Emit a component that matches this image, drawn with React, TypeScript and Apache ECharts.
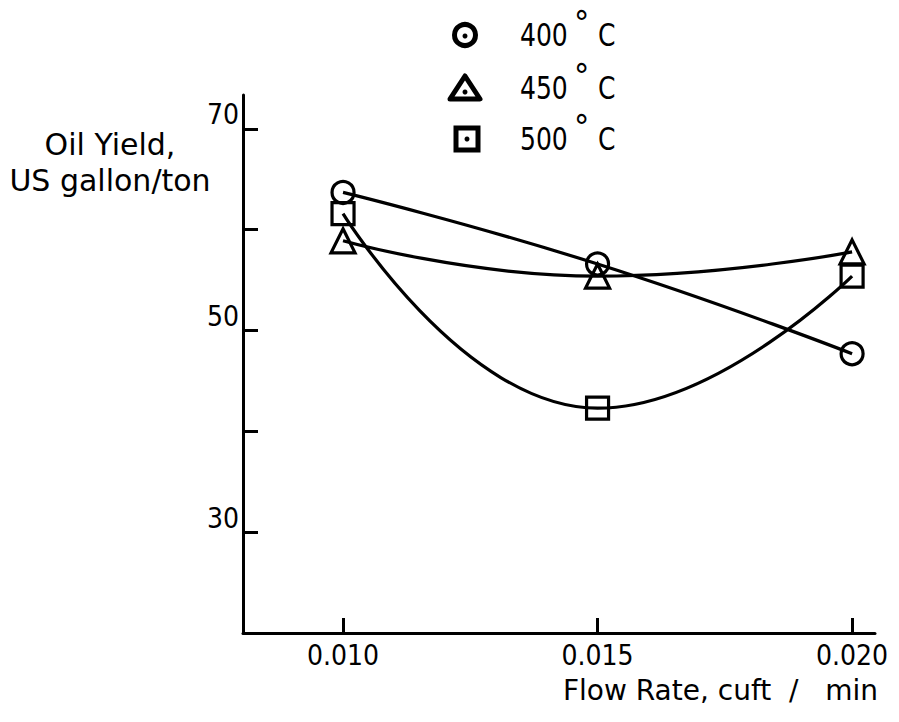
import React, { useEffect, useRef } from "react";
import * as echarts from "echarts";

const flowRates = [0.01, 0.015, 0.02];
const yield400 = [63.7, 56.6, 47.7];
const yield450 = [58.9, 55.4, 57.8];
const yield500 = [61.6, 42.3, 55.4];
const xTickValues = [0.01, 0.015, 0.02];
const yTickValues = [30, 40, 50, 60, 70];
const yLabelValues = [30, 50, 70];
const legendNames = ["400", "450", "500"];

const NARROW = "'DejaVu Sans Condensed', 'Liberation Sans', sans-serif";
const WIDE = "'DejaVu Sans', sans-serif";

export default function App() {
  const ref = useRef<HTMLDivElement>(null);
  useEffect(() => {
    if (!ref.current) return;
    const chart = echarts.init(ref.current, null, { renderer: "svg" });
    const mk = (name: string, data: number[], symbol: string, size: number) => ({
      name,
      type: "line",
      smooth: 0.5,
      data: flowRates.map((x, i) => [x, data[i]]),
      symbol,
      symbolSize: size,
      showSymbol: true,
      lineStyle: { color: "#000", width: 3.2 },
      itemStyle: { color: "rgba(0,0,0,0)", borderColor: "#000", borderWidth: 3.2 },
      z: 3,
    });
    const legendY = [35, 88, 139];
    const graphics: any[] = [];
    graphics.push(
      { type: "text", x: 110, y: 144, style: { text: "Oil Yield,", font: `30px ${WIDE}`, fill: "#000", align: "center", verticalAlign: "middle" } },
      { type: "text", x: 110, y: 180, style: { text: "US gallon/ton", font: `30px ${WIDE}`, fill: "#000", align: "center", verticalAlign: "middle" } },
      { type: "text", x: 878, y: 690, style: { text: "Flow Rate, cuft  /   min", font: `28px ${WIDE}`, fill: "#000", align: "right", verticalAlign: "middle" } },
      { type: "circle", shape: { cx: 465, cy: legendY[0], r: 10.5 }, style: { fill: "none", stroke: "#000", lineWidth: 5 } },
      { type: "circle", shape: { cx: 465, cy: legendY[0] + 1, r: 2.5 }, style: { fill: "#000" } },
      { type: "polygon", shape: { points: [[465, 76], [480, 99], [450, 99]] }, style: { fill: "none", stroke: "#000", lineWidth: 5, lineJoin: "round" } },
      { type: "circle", shape: { cx: 465, cy: 92, r: 2.5 }, style: { fill: "#000" } },
      { type: "rect", shape: { x: 456, y: 128, width: 22, height: 22 }, style: { fill: "none", stroke: "#000", lineWidth: 5 } },
      { type: "circle", shape: { cx: 467, cy: 139, r: 2.5 }, style: { fill: "#000" } }
    );
    legendNames.forEach((n, i) => {
      graphics.push(
        { type: "text", x: 520, y: legendY[i], scaleX: 0.87, style: { text: n, font: `32px ${NARROW}`, fill: "#000", align: "left", verticalAlign: "middle" } },
        { type: "text", x: 574, y: legendY[i] - 12, style: { text: "°", font: `34px ${NARROW}`, fill: "#000", align: "left", verticalAlign: "middle" } },
        { type: "text", x: 598, y: legendY[i], scaleX: 0.87, style: { text: "C", font: `32px ${NARROW}`, fill: "#000", align: "left", verticalAlign: "middle" } }
      );
    });
    chart.setOption({
      animation: false,
      backgroundColor: "#fff",
      grid: { left: 243, right: 24, top: 95, bottom: 89 },
      xAxis: {
        type: "value",
        min: 0.008035,
        max: 0.02045,
        axisLine: { show: true, lineStyle: { color: "#000", width: 3 } },
        axisTick: { show: true, inside: true, length: 15, customValues: xTickValues, lineStyle: { color: "#000", width: 3 } },
        axisLabel: {
          show: true,
          customValues: xTickValues,
          formatter: (v: number) => v.toFixed(3),
          color: "#000",
          fontFamily: NARROW,
          fontSize: 28,
          margin: 8,
        },
        splitLine: { show: false },
      },
      yAxis: {
        type: "value",
        min: 20,
        max: 73.36,
        axisLine: { show: true, lineStyle: { color: "#000", width: 3 } },
        axisTick: { show: true, inside: true, length: 15, customValues: yTickValues, lineStyle: { color: "#000", width: 3 } },
        axisLabel: {
          show: true,
          customValues: yLabelValues,
          color: "#000",
          fontFamily: NARROW,
          fontSize: 28,
          margin: 4,
          verticalAlign: "bottom",
          padding: [0, 0, 0, 0],
        },
        splitLine: { show: false },
      },
      series: [
        mk("400° C", yield400, "circle", 22),
        mk("450° C", yield450, "triangle", 24),
        mk("500° C", yield500, "rect", 22),
      ],
      graphic: graphics,
    });
    return () => chart.dispose();
  }, []);
  return <div ref={ref} style={{ width: 899, height: 722, position: "absolute", left: 0, top: 0 }} />;
}
